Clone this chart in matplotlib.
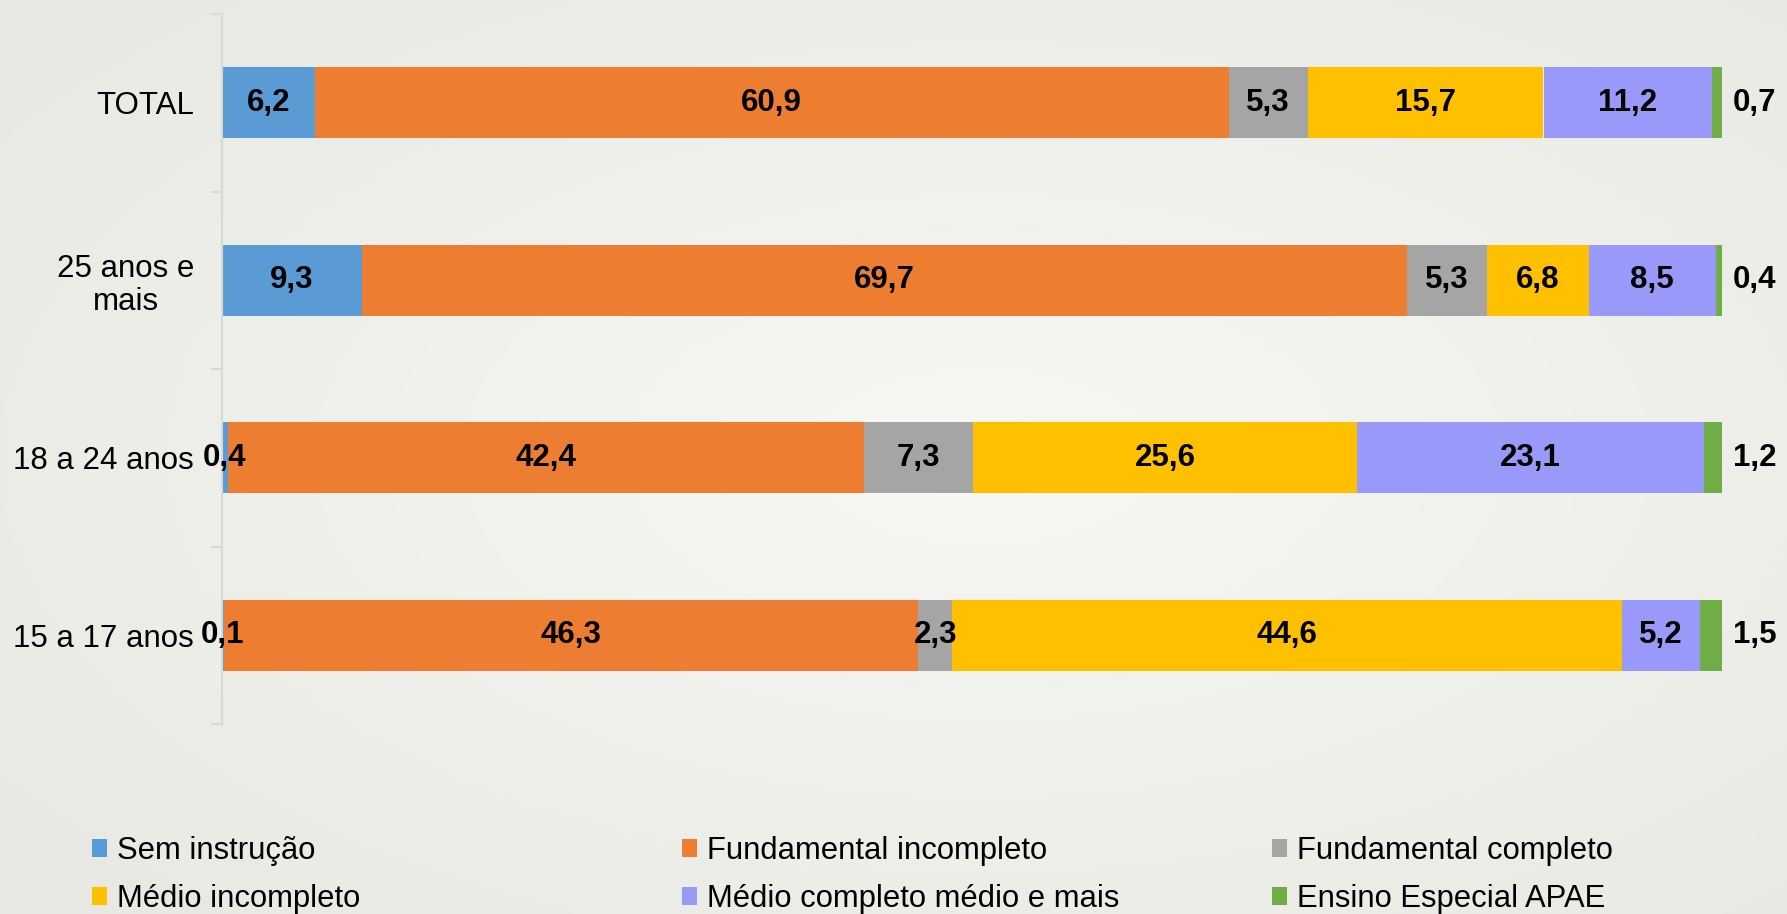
import numpy as np
import matplotlib
matplotlib.use("Agg")
import matplotlib.pyplot as plt
from matplotlib.patches import Patch

plt.rcParams['font.family'] = ['Liberation Sans', 'DejaVu Sans']

categories = ["TOTAL", "25 anos e\nmais", "18 a 24 anos", "15 a 17 anos"]
series_names = ["Sem instrução", "Fundamental incompleto", "Fundamental completo",
                "Médio incompleto", "Médio completo médio e mais", "Ensino Especial APAE"]
sem_instrucao = [6.2, 9.3, 0.4, 0.1]
fund_incompleto = [60.9, 69.7, 42.4, 46.3]
fund_completo = [5.3, 5.3, 7.3, 2.3]
medio_incompleto = [15.7, 6.8, 25.6, 44.6]
medio_completo = [11.2, 8.5, 23.1, 5.2]
ensino_especial = [0.7, 0.4, 1.2, 1.5]
colors = ["#5B9BD5", "#ED7D31", "#A5A5A5", "#FFC000", "#9999F9", "#70AD47"]

series = [sem_instrucao, fund_incompleto, fund_completo, medio_incompleto,
          medio_completo, ensino_especial]

W, H = 1787, 914
fig = plt.figure(figsize=(W / 100, H / 100), dpi=100)

# background radial gradient
bg = fig.add_axes([0, 0, 1, 1], zorder=-10)
yy, xx = np.mgrid[0:1:300j, 0:1:600j]
r = np.sqrt(((xx - 0.55) / 0.75) ** 2 + ((yy - 0.5) / 0.75) ** 2)
r = np.clip(r, 0, 1)
c0 = np.array([247, 247, 244]) / 255.0
c1 = np.array([232, 232, 226]) / 255.0
img = c0[None, None, :] * (1 - r[..., None]) + c1[None, None, :] * r[..., None]
bg.imshow(img, aspect='auto', extent=[0, 1, 0, 1], origin='lower')
bg.axis('off')

left, right = 222 / W, 1722 / W
top, bottom = 1 - 14 / H, 1 - 724 / H
ax = fig.add_axes([left, bottom, right - left, top - bottom])
ax.set_facecolor('none')

y = np.arange(len(categories))[::-1]
lefts = np.zeros(len(categories))
bars = []
for vals, col in zip(series, colors):
    b = ax.barh(y, vals, left=lefts, height=0.4, color=col, edgecolor='none')
    bars.append(b)
    lefts = lefts + np.array(vals)

ax.set_xlim(0, 100)
ax.set_ylim(-0.5, len(categories) - 0.5)

# labels
for si, (vals, b) in enumerate(zip(series, bars)):
    for rect, v in zip(b, vals):
        txt = f"{v:.1f}".replace('.', ',')
        cy = rect.get_y() + rect.get_height() / 2
        if si == len(series) - 1:
            ax.annotate(txt, xy=(rect.get_x() + rect.get_width(), cy),
                        xytext=(11, 0), textcoords='offset pixels',
                        ha='left', va='center', fontsize=22.5, fontweight='bold',
                        annotation_clip=False)
        else:
            ax.text(rect.get_x() + rect.get_width() / 2, cy, txt,
                    ha='center', va='center', fontsize=22.5, fontweight='bold',
                    clip_on=False)

for s in ['top', 'right', 'bottom']:
    ax.spines[s].set_visible(False)
ax.spines['left'].set_color('#D9D9D9')
ax.spines['left'].set_linewidth(1.5)
ax.set_xticks([])
ax.set_yticks(y)
ax.set_yticklabels(categories, fontsize=22.5, multialignment='center', linespacing=1.12)
ax.tick_params(axis='y', which='major', length=0, pad=20)
ax.set_yticks(np.arange(-0.5, len(categories), 1.0), minor=True)
ax.tick_params(axis='y', which='minor', length=8, width=1.5, color='#D9D9D9')

# legend: three columns placed manually
handles = [Patch(facecolor=c, edgecolor='none') for c in colors]
col_x = [92, 682, 1272]
for ci in range(3):
    hs = [handles[ci], handles[ci + 3]]
    ls = [series_names[ci], series_names[ci + 3]]
    leg = fig.legend(hs, ls, loc='upper left',
                     bbox_to_anchor=(col_x[ci] / W, 1 - 836 / H),
                     frameon=False, fontsize=22.3, handlelength=0.5, handleheight=0.5,
                     handletextpad=0.3, labelspacing=0.58, borderpad=0, borderaxespad=0)

fig.savefig("out.png", dpi=100)
